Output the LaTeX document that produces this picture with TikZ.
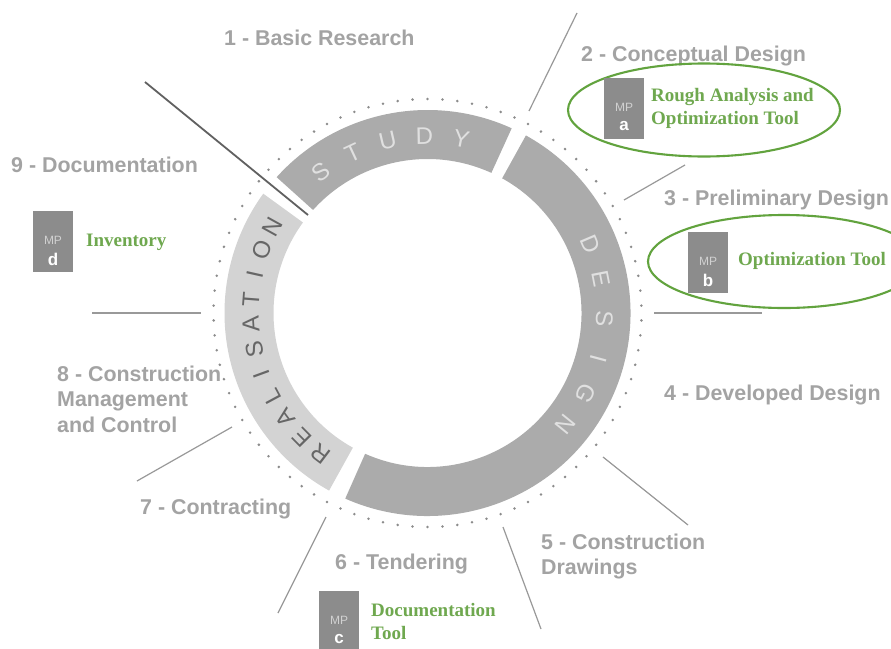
\documentclass[tikz,border=0pt]{standalone}
\usepackage{fontspec}
\setmainfont{Liberation Sans}
\newfontfamily\greenserif{Liberation Serif}
\usetikzlibrary{shapes.geometric}
\definecolor{labelgray}{HTML}{A3A3A3}
\definecolor{ringdark}{HTML}{ABABAB}
\definecolor{ringlight}{HTML}{D3D3D3}
\definecolor{boxgray}{HTML}{8C8C8C}
\definecolor{toolgreen}{HTML}{6FA84F}
\definecolor{ovalgreen}{HTML}{62A33E}
\definecolor{linegray}{HTML}{999999}
\tikzset{
  x=1pt,y=-1pt,
  phase/.style={anchor=base west,inner sep=0pt,text=labelgray,font=\fontsize{21.4}{25.5}\selectfont\bfseries,align=left},
  tool/.style={anchor=base west,inner sep=0pt,text=toolgreen,font=\greenserif\fontsize{19}{23}\selectfont\bfseries,align=left},
  mpbox/.style={fill=boxgray,draw=none,minimum width=40pt,minimum height=61pt,inner sep=0pt,anchor=north west},
  mptext/.style={inner sep=0pt,text=black!18,font=\fontsize{12}{12}\selectfont},
  mpletter/.style={inner sep=0pt,text=white,font=\fontsize{17}{17}\selectfont\bfseries},
  oval/.style={draw=ovalgreen,line width=2.1pt,ellipse,inner sep=0pt},
  spoke/.style={draw=linegray,line width=1.2pt},
  ringletter/.style={inner sep=0pt,font=\fontsize{24}{24}\selectfont},
}
\newcommand{\ringchar}[3]{%
  \node[ringletter,text=#3,rotate={#1-90}] at ({427.5+177*cos(#1)},{313-177*sin(#1)}) {#2};}
\begin{document}
\begin{tikzpicture}
\useasboundingbox (0,0) rectangle (891,648);
\fill[white] (0,0) rectangle (891,648);
\begin{scope}
\clip (0,0) rectangle (891,648);
% ring
\fill[ringdark] ({427.5+203*cos(138)},{313-203*sin(138)}) arc[start angle=-138,end angle=-65.5,radius=203]
  -- ({427.5+154*cos(65.5)},{313-154*sin(65.5)}) arc[start angle=-65.5,end angle=-138,radius=154] -- cycle;
\fill[ringdark] ({427.5+203*cos(61)},{313-203*sin(61)}) arc[start angle=-61,end angle=113.9,radius=203]
  -- ({427.5+154*cos(-113.9)},{313-154*sin(-113.9)}) arc[start angle=113.9,end angle=-61,radius=154] -- cycle;
\fill[ringlight] ({427.5+203*cos(144)},{313-203*sin(144)}) arc[start angle=-144,end angle=-241,radius=203]
  -- ({427.5+154*cos(241)},{313-154*sin(241)}) arc[start angle=-241,end angle=-144,radius=154] -- cycle;
% dots
\foreach \a in {0,4,...,356} \fill[black!45] ({427.5+214*cos(\a+2)},{313-214*sin(\a+2)}) circle[radius=1.4pt];
% ring letters
\foreach \a/\c in {127/S,115/T,103/U,91/D,79/Y} {\ringchar{\a}{\c}{white!88!black}}
\foreach \a/\c in {23/D,11/E,-2/S,-15/I,-27/G,-39/N} {\ringchar{\a}{\c}{white!88!black}}
\foreach \c [count=\i from 0] in {R,E,A,L,I,S,A,T,I,O,N} {
  \pgfmathsetmacro{\a}{232.8-8.18*\i}
  \node[ringletter,text=black!60,rotate={\a-90}] (re\i) at ({427.5+177*cos(\a)},{313-177*sin(\a)}) {\c};
}
% labels
\node[phase] (p1) at (224,45.5) {1 - Basic Research};
\node[phase] (p2) at (581,61.5) {2 - Conceptual Design};
\node[phase] (p3) at (664,205.5) {3 - Preliminary Design};
\node[phase] (p4) at (664,400.5) {4 - Developed Design};
\node[phase,anchor=west] (p5) at (541,556.5) {5 - Construction\\Drawings};
\node[phase] (p6) at (335,569.5) {6 - Tendering};
\node[phase] (p7) at (140,514.5) {7 - Contracting};
\node[phase,anchor=west] (p8) at (57,399) {8 - Construction\\Management\\and Control};
\node[phase] (p9) at (11,172.5) {9 - Documentation};
% ovals
\node[oval,minimum width=272pt,minimum height=93pt] (ova) at (704,110) {};
\node[oval,minimum width=272pt,minimum height=93pt] (ovb) at (784,261.5) {};
% MP boxes
\node[mpbox] (boxa) at (604,78) {};
\node[mptext] (mpa) at (624,107) {MP};
\node[mpletter] (la) at (624,126) {a};
\node[mpbox] (boxb) at (688,232) {};
\node[mptext] (mpb) at (708,261) {MP};
\node[mpletter] (lb) at (708,280) {b};
\node[mpbox] (boxc) at (319,591) {};
\node[mptext] (mpc) at (339,620) {MP};
\node[mpletter] (lc) at (339,639) {c};
\node[mpbox] (boxd) at (33,211) {};
\node[mptext] (mpd) at (53,240) {MP};
\node[mpletter] (ld) at (53,259) {d};
% tools
\node[tool,anchor=west] (ta) at (651,108.5) {Rough Analysis and\\Optimization Tool};
\node[tool] (tb) at (738,265) {Optimization Tool};
\node[tool,anchor=west] (tc) at (371,621.5) {Documentation\\Tool};
\node[tool] (td) at (86,246) {Inventory};
% spokes
\coordinate (s1a) at (577,13); \coordinate (s1b) at (529,111);
\coordinate (s2a) at (685,165); \coordinate (s2b) at (624,200);
\coordinate (s3a) at (654,313); \coordinate (s3b) at (762,313);
\coordinate (s4a) at (603,457); \coordinate (s4b) at (688,525);
\coordinate (s5a) at (503,527); \coordinate (s5b) at (541,629);
\coordinate (s6a) at (326,517); \coordinate (s6b) at (278,613);
\coordinate (s7a) at (232,427); \coordinate (s7b) at (137,481);
\coordinate (s8a) at (92,313); \coordinate (s8b) at (201,313);
\coordinate (s9a) at (145,82); \coordinate (s9b) at (308,215);
\draw[spoke] (s1a) -- (s1b);
\draw[spoke] (s2a) -- (s2b);
\draw[spoke] (s3a) -- (s3b);
\draw[spoke] (s4a) -- (s4b);
\draw[spoke] (s5a) -- (s5b);
\draw[spoke] (s6a) -- (s6b);
\draw[spoke] (s7a) -- (s7b);
\draw[spoke] (s8a) -- (s8b);
\draw[draw=black!62,line width=1.8pt] (s9a) -- (s9b);
\end{scope}
\end{tikzpicture}
\end{document}
